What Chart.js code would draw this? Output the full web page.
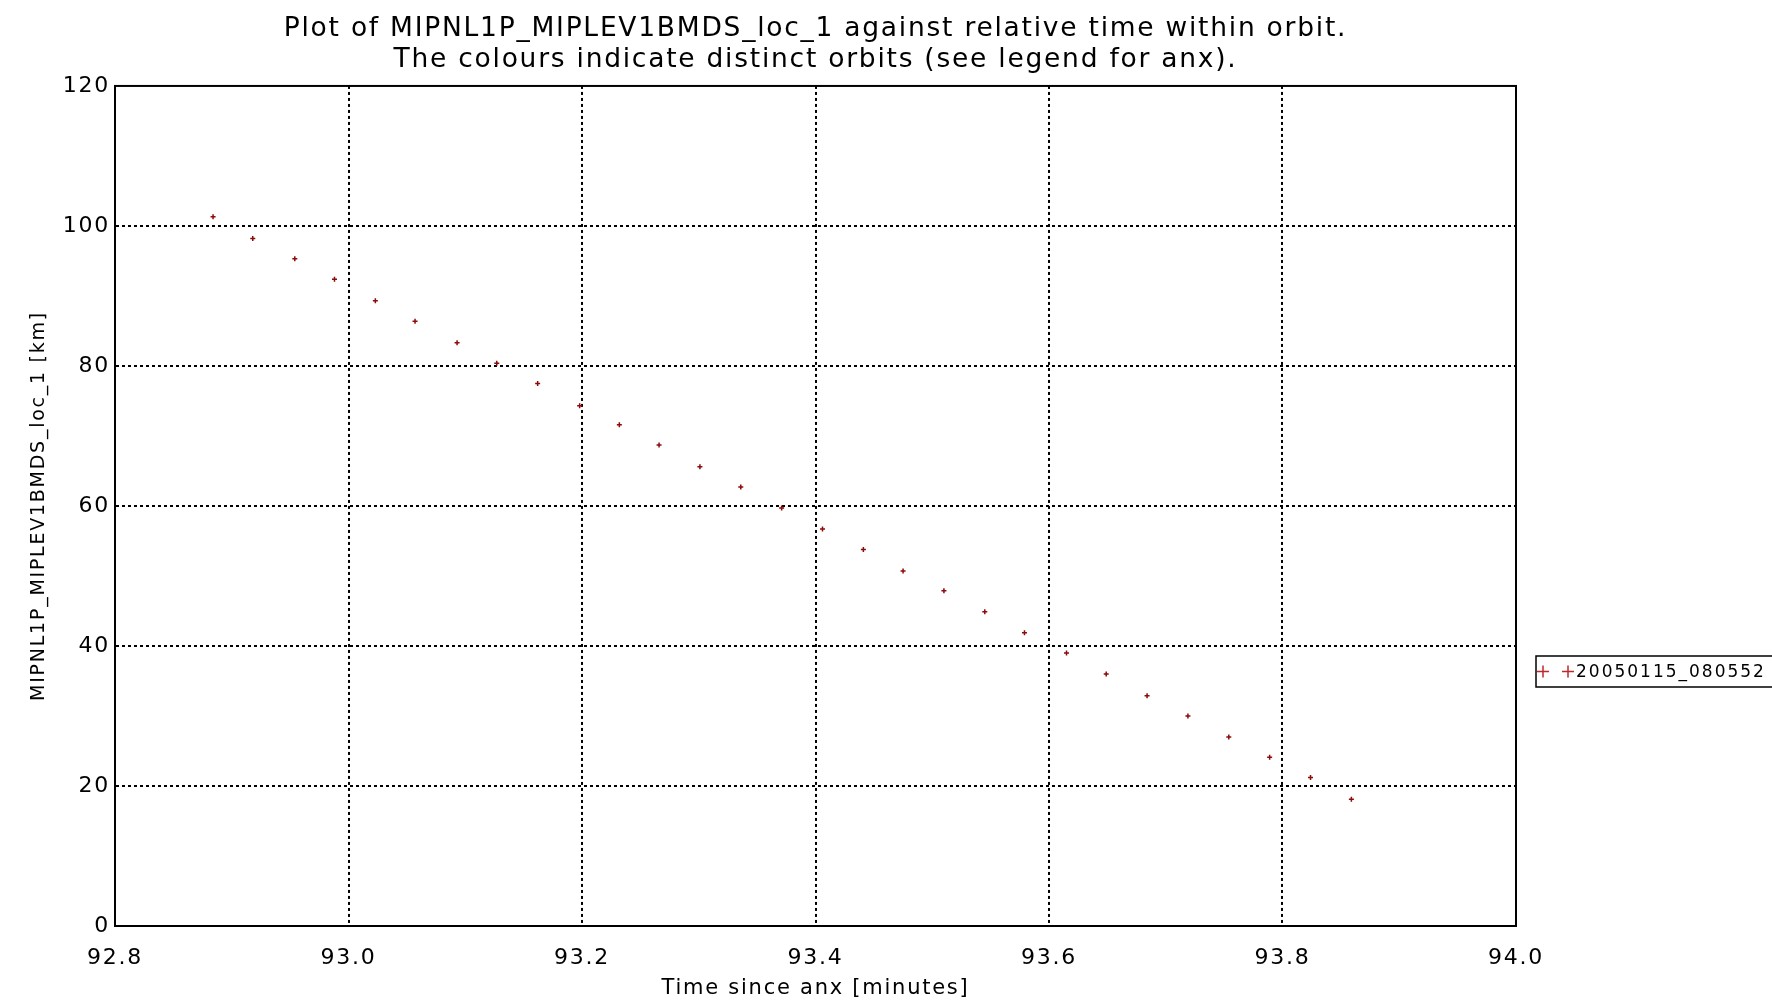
<!DOCTYPE html>
<html>
<head>
<meta charset="utf-8">
<title>MIPNL1P_MIPLEV1BMDS_loc_1</title>
<script src="https://cdn.jsdelivr.net/npm/chart.js@4.4.1/dist/chart.umd.min.js"></script>
<style>
  html, body { margin: 0; padding: 0; background: #fff; }
  canvas { display: block; }
</style>
</head>
<body>
<canvas id="orbitChart" width="1772" height="1005"></canvas>
<script>
// values (minutes since anx / km)
const timeSinceAnx = [
  92.884, 92.918, 92.954, 92.988, 93.023, 93.057, 93.093, 93.127, 93.162, 93.198,
  93.232, 93.266, 93.301, 93.336, 93.371, 93.406, 93.441, 93.475, 93.510, 93.545,
  93.579, 93.615, 93.649, 93.684, 93.719, 93.754, 93.789, 93.824, 93.859
];
const locValues = [
  101.3, 98.2, 95.3, 92.4, 89.3, 86.4, 83.3, 80.4, 77.5, 74.3,
  71.6, 68.7, 65.6, 62.7, 59.7, 56.7, 53.8, 50.7, 47.9, 44.9,
  41.9, 39.0, 36.0, 32.9, 30.0, 27.0, 24.1, 21.2, 18.1
];
const xTicks = [92.8, 93.0, 93.2, 93.4, 93.6, 93.8, 94.0];
const yTicks = [0, 20, 40, 60, 80, 100, 120];
const orbitLabel = '20050115_080552';
const titleLines = [
  'Plot of MIPNL1P_MIPLEV1BMDS_loc_1 against relative time within orbit.',
  'The colours indicate distinct orbits (see legend for anx).'
];
const xTitle = 'Time since anx [minutes]';
const yTitle = 'MIPNL1P_MIPLEV1BMDS_loc_1 [km]';

const markColor = '#8b0a0a';
const FONT = 'DejaVu Sans';

// old IDL plots have wide letter spacing, set it on the context before measuring/drawing
const spacingPlugin = {
  id: 'spacing',
  beforeUpdate(chart) { chart.ctx.letterSpacing = '1.75px'; },
  beforeDraw(chart) { chart.ctx.letterSpacing = '1.75px'; }
};

// full box round the plot + the legend box on the right
const framePlugin = {
  id: 'frame',
  afterDraw(chart) {
    const { ctx, chartArea: a } = chart;
    ctx.save();
    ctx.strokeStyle = '#000';
    ctx.lineWidth = 2;
    ctx.strokeRect(a.left, a.top, a.right - a.left, a.bottom - a.top);

    // legend
    const lx = 1536, ly = 656, lh = 31;
    ctx.lineWidth = 1.5;
    ctx.strokeRect(lx, ly, 260, lh);
    const cy = ly + lh / 2;
    ctx.strokeStyle = '#c0282d';
    ctx.lineWidth = 1.5;
    [1543, 1568].forEach(cx => {
      ctx.beginPath();
      ctx.moveTo(cx - 6, cy); ctx.lineTo(cx + 6, cy);
      ctx.moveTo(cx, cy - 6); ctx.lineTo(cx, cy + 6);
      ctx.stroke();
    });
    ctx.letterSpacing = '2px';
    ctx.fillStyle = '#000';
    ctx.font = '17px "' + FONT + '"';
    ctx.textBaseline = 'middle';
    ctx.textAlign = 'left';
    ctx.fillText(chart.data.datasets[0].label, 1576, cy + 1);
    ctx.restore();
  }
};

function edgeClear(ctx) {
  const n = ctx.scale.ticks.length;
  return (ctx.index === 0 || ctx.index === n - 1) ? 'rgba(0,0,0,0)' : '#000';
}

const ctx = document.getElementById('orbitChart').getContext('2d');
const orbitChart = new Chart(ctx, {
  type: 'scatter',
  data: {
    datasets: [{
      label: orbitLabel,
      data: timeSinceAnx.map((t, i) => ({ x: t, y: locValues[i] })),
      pointStyle: 'cross',
      pointRadius: 2.5,
      pointBorderWidth: 1.5,
      borderColor: markColor,
      backgroundColor: markColor,
      showLine: false
    }]
  },
  options: {
    responsive: false,
    animation: false,
    layout: { padding: { left: 0, right: 256, top: 0, bottom: 0 } },
    plugins: {
      legend: { display: false },
      tooltip: { enabled: false },
      title: {
        display: true,
        fullSize: false, // centre it over the plot box, not the whole canvas
        text: titleLines,
        color: '#000',
        font: { family: FONT, size: 26.5, weight: 'normal', lineHeight: 1.15 },
        padding: { top: 14, bottom: 11 }
      }
    },
    scales: {
      x: {
        type: 'linear',
        min: xTicks[0],
        max: xTicks[xTicks.length - 1],
        afterBuildTicks: s => { s.ticks = xTicks.map(v => ({ value: v })); },
        afterFit: s => { s.height = 79; },
        grid: { color: edgeClear, lineWidth: 2, drawTicks: false },
        border: { display: true, color: '#000', width: 2, dash: [3, 3] },
        ticks: {
          color: '#000',
          padding: 19,
          maxRotation: 0,
          font: { family: FONT, size: 22 },
          callback: v => Number(v).toFixed(1)
        },
        title: {
          display: true,
          text: xTitle,
          color: '#000',
          font: { family: FONT, size: 21 },
          padding: { top: 0, bottom: 4 }
        }
      },
      y: {
        type: 'linear',
        min: yTicks[0],
        max: yTicks[yTicks.length - 1],
        afterBuildTicks: s => { s.ticks = yTicks.map(v => ({ value: v })); },
        afterFit: s => { s.width = 115; },
        grid: { color: edgeClear, lineWidth: 2, drawTicks: false },
        border: { display: true, color: '#000', width: 2, dash: [3, 3] },
        ticks: {
          color: '#000',
          padding: 5,
          font: { family: FONT, size: 22 },
          callback: v => String(v)
        },
        title: {
          display: true,
          text: yTitle,
          color: '#000',
          font: { family: FONT, size: 19 },
          padding: { top: 28, bottom: 0 }
        }
      }
    }
  },
  plugins: [spacingPlugin, framePlugin]
});
</script>
</body>
</html>
